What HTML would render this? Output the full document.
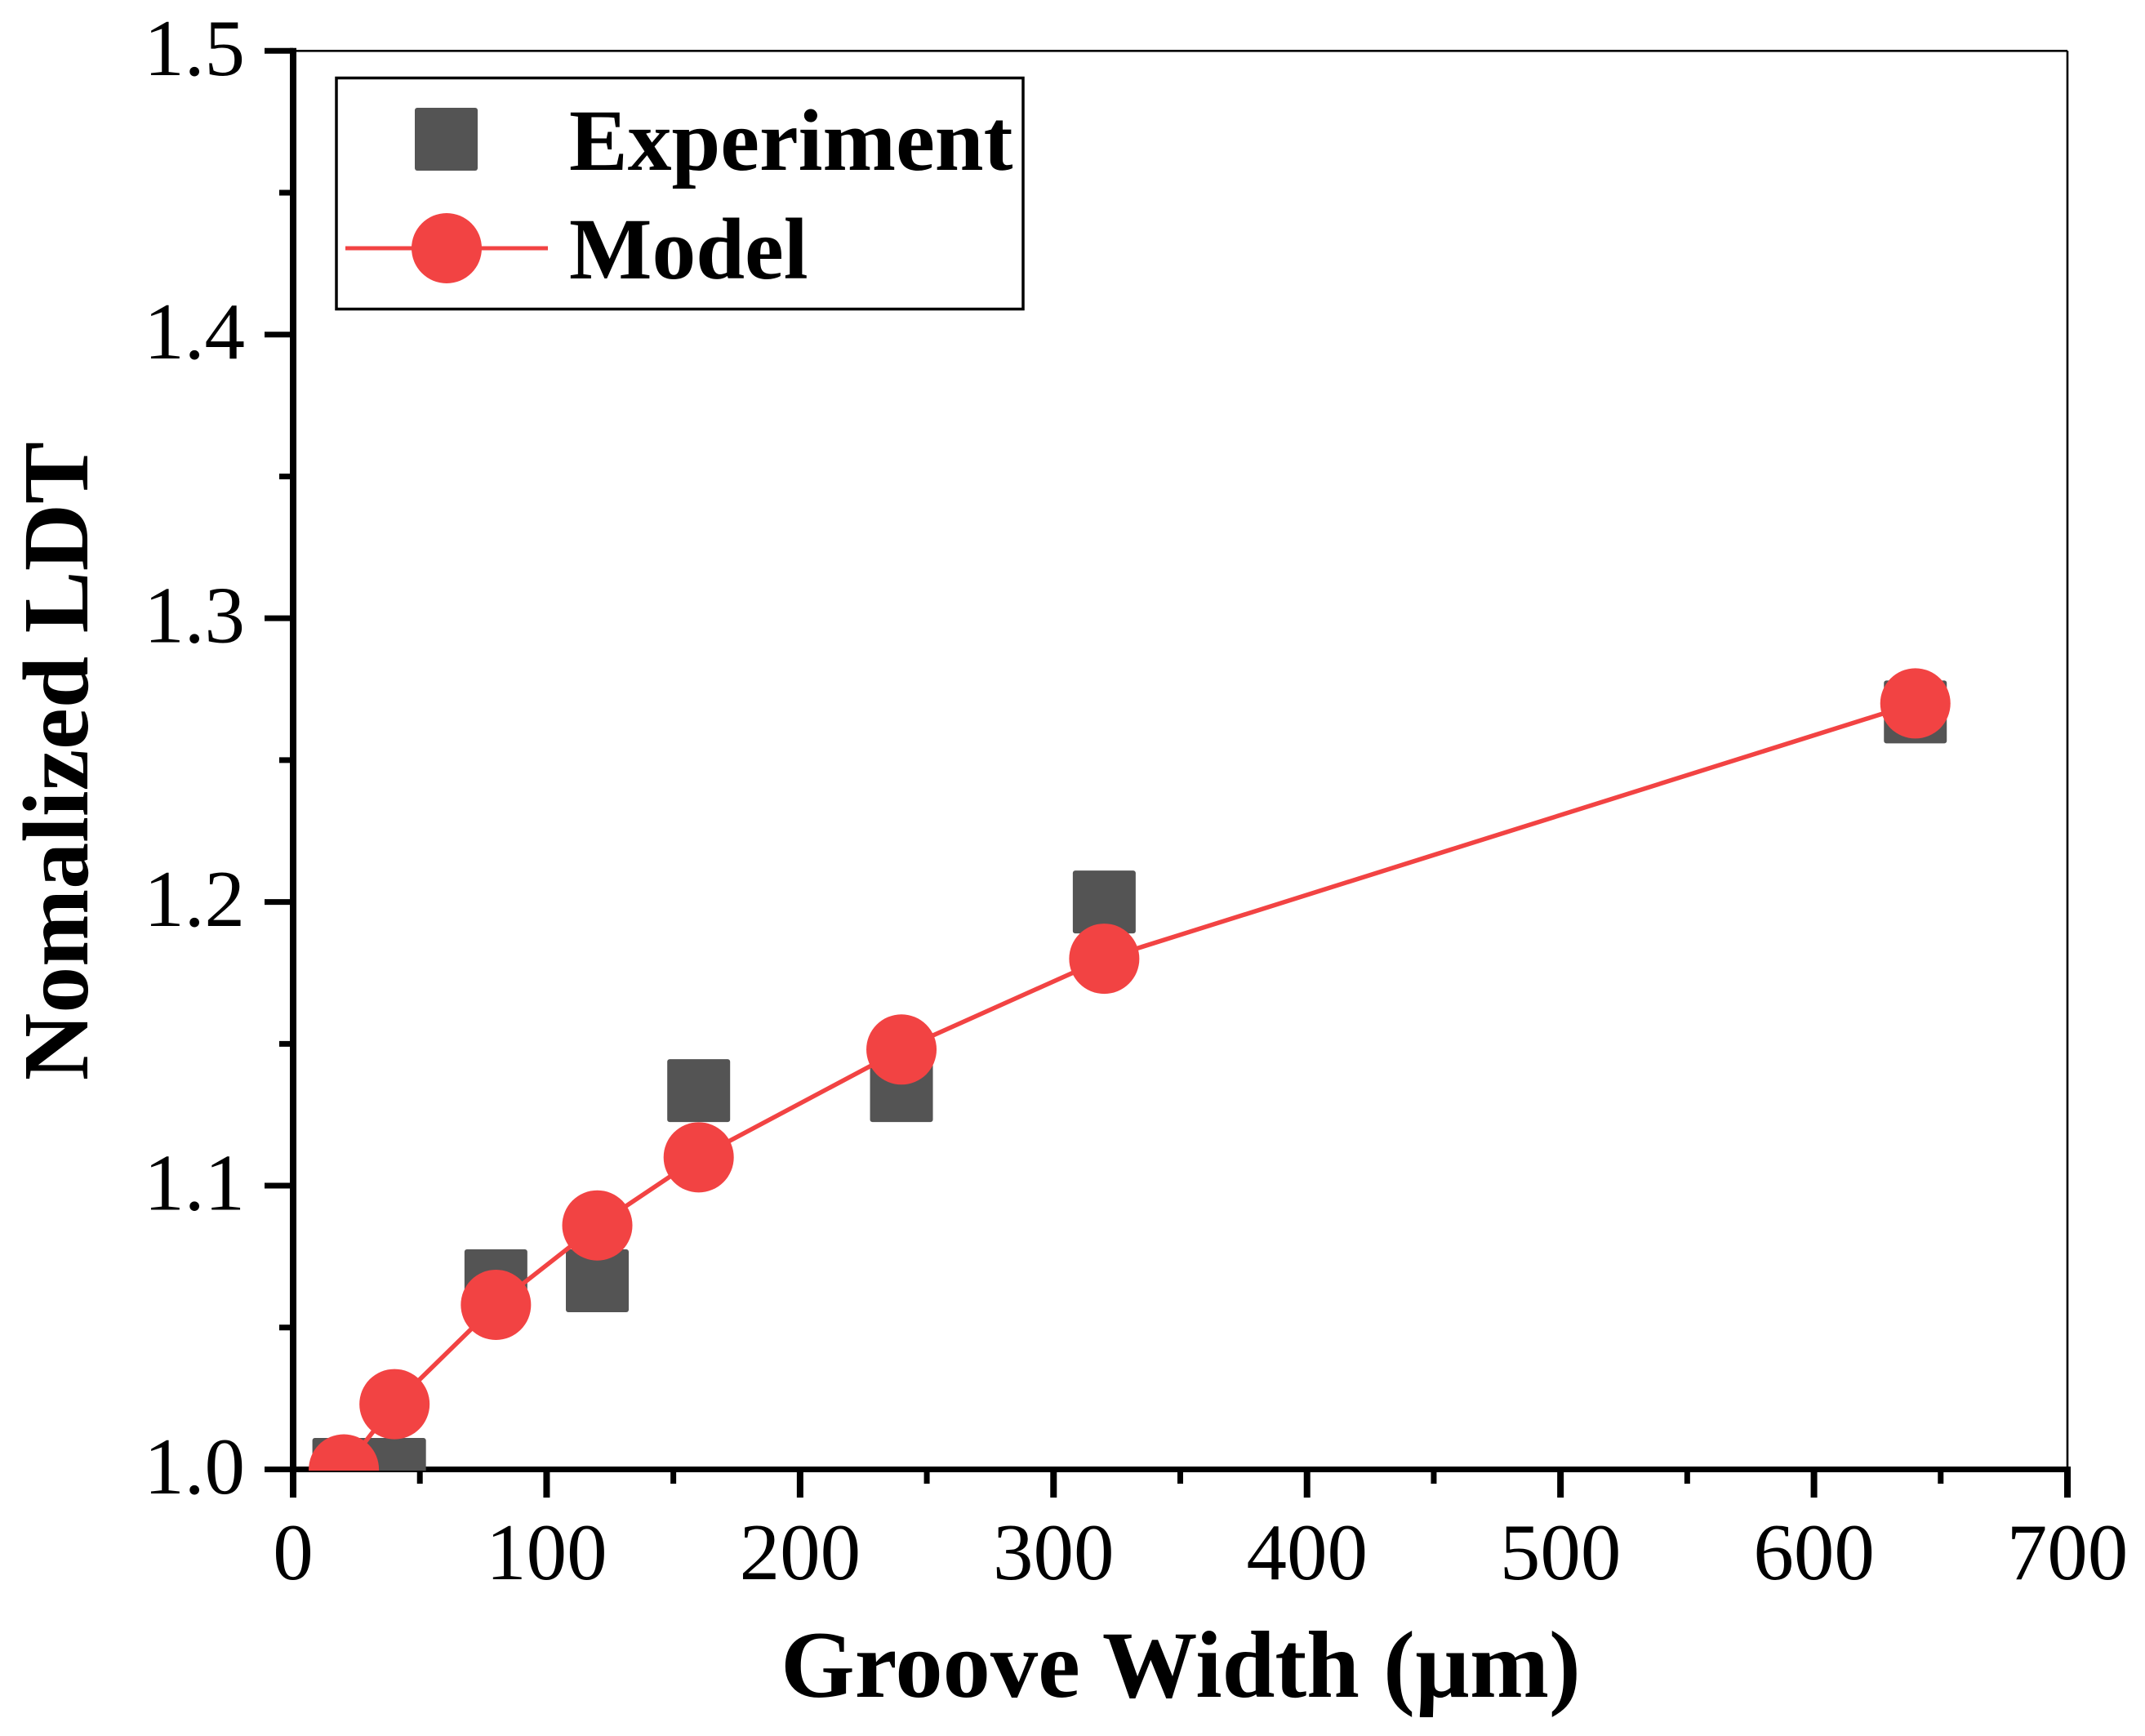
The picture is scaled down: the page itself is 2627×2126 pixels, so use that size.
<!DOCTYPE html>
<html lang="en">
<head>
<meta charset="utf-8">
<title>Normalized LDT vs Groove Width</title>
<style>
  html, body { margin: 0; padding: 0; background: #fff; }
  svg { display: block; }
  text { fill: #000; font-family: "Liberation Serif", "Times New Roman", serif; }
  .tick { font-size: 99px; }
  .title { font-size: 116.5px; font-weight: 700; }
  .ytitle { font-size: 114px; font-weight: 700; }
  .leg { font-size: 107.5px; font-weight: 700; }
</style>
</head>
<body>
<svg id="chart" xmlns="http://www.w3.org/2000/svg" width="2627" height="2126" viewBox="0 0 2627 2126">
  <rect x="0" y="0" width="2627" height="2126" fill="#ffffff"/>
  <defs>
    <clipPath id="plot-clip"><rect x="359" y="62" width="2173" height="1739"/></clipPath>
  </defs>
  <g id="axes"></g>
  <g id="marks" clip-path="url(#plot-clip)"></g>
  <text class="title" x="1446" y="2078" text-anchor="middle">Groove Width (µm)</text>
  <text class="ytitle" transform="translate(107 932) rotate(-90)" text-anchor="middle">Nomalized LDT</text>
  <g>
    <rect x="412" y="95.5" width="841" height="283" fill="#fff" stroke="#000" stroke-width="3.5"/>
    <rect x="508" y="132" width="77" height="77" rx="3" fill="#545454"/>
    <text class="leg" x="697" y="208">Experiment</text>
    <line x1="423" y1="304" x2="671" y2="304" stroke="#F24343" stroke-width="5"/>
    <circle cx="547" cy="304" r="43" fill="#F24343"/>
    <text class="leg" x="697" y="341">Model</text>
  </g>
</svg>
<script>
const grooveWidths = [20, 40, 80, 120, 160, 240, 320, 640];
const experimentValues = [1.0, 1.0, 1.0665, 1.0665, 1.1335, 1.1335, 1.2, 1.267];
const modelValues = [1.0, 1.023, 1.058, 1.086, 1.11, 1.148, 1.18, 1.27];
const xMajorTicks = [0, 100, 200, 300, 400, 500, 600, 700];
const xMinorTicks = [50, 150, 250, 350, 450, 550, 650];
const yMajorTicks = [1.0, 1.1, 1.2, 1.3, 1.4, 1.5];
const yMinorTicks = [1.05, 1.15, 1.25, 1.35, 1.45];

const NS = 'http://www.w3.org/2000/svg';
const xLeft = 359, xRight = 2532, yBottom = 1799.5, yTop = 62.3;
const xMin = 0, xMax = 700, yMin = 1.0, yMax = 1.5;
function xScale(v) { return xLeft + (v - xMin) / (xMax - xMin) * (xRight - xLeft); }
function yScale(v) { return yBottom - (v - yMin) / (yMax - yMin) * (yBottom - yTop); }

const axes = document.getElementById('axes');
const marks = document.getElementById('marks');

function drawLine(parent, x1, y1, x2, y2, width, color) {
  const el = document.createElementNS(NS, 'line');
  el.setAttribute('x1', x1);
  el.setAttribute('y1', y1);
  el.setAttribute('x2', x2);
  el.setAttribute('y2', y2);
  el.setAttribute('stroke', color);
  el.setAttribute('stroke-width', width);
  parent.appendChild(el);
  return el;
}
function drawLabel(x, y, anchor, str) {
  const el = document.createElementNS(NS, 'text');
  el.setAttribute('x', x);
  el.setAttribute('y', y);
  el.setAttribute('text-anchor', anchor);
  el.setAttribute('class', 'tick');
  el.textContent = str;
  axes.appendChild(el);
  return el;
}

let s;
s = drawLine(axes, xLeft, yTop, xRight, yTop, 2.6, '#000');


s = drawLine(axes, xRight, yTop, xRight, yBottom, 2.6, '#000');


s = drawLine(axes, xLeft, yTop - 3.5, xLeft, yBottom, 8, '#000');


s = drawLine(axes, xLeft, yBottom, xRight + 4, yBottom, 7, '#000');



xMajorTicks.forEach(function (v) {
  const t = drawLine(axes, xScale(v), yBottom, xScale(v), 1834, 8, '#000');
  
  
  const l = drawLabel(xScale(v), 1934, 'middle', String(v));
  
  
});
xMinorTicks.forEach(function (v) {
  const t = drawLine(axes, xScale(v), yBottom, xScale(v), 1817, 7, '#000');
  
  
});
yMajorTicks.forEach(function (v) {
  const t = drawLine(axes, 324, yScale(v), xLeft, yScale(v), 7, '#000');
  
  
  const l = drawLabel(300, yScale(v) + 29.5, 'end', v.toFixed(1));
  
  
});
yMinorTicks.forEach(function (v) {
  const t = drawLine(axes, 342, yScale(v), xLeft, yScale(v), 7, '#000');
  
  
});

const squareSize = 77;
experimentValues.forEach(function (v, i) {
  const r = document.createElementNS(NS, 'rect');
  
  
  r.setAttribute('x', xScale(grooveWidths[i]) - squareSize / 2);
  r.setAttribute('y', yScale(v) - squareSize / 2);
  r.setAttribute('width', squareSize);
  r.setAttribute('height', squareSize);
  r.setAttribute('rx', 3);
  r.setAttribute('fill', '#545454');
  marks.appendChild(r);
});

const modelLine = document.createElementNS(NS, 'polyline');


modelLine.setAttribute('points', modelValues.map(function (v, i) {
  return xScale(grooveWidths[i]) + ',' + yScale(v);
}).join(' '));
modelLine.setAttribute('fill', 'none');
modelLine.setAttribute('stroke', '#F24343');
modelLine.setAttribute('stroke-width', 5.5);
marks.appendChild(modelLine);

modelValues.forEach(function (v, i) {
  const c = document.createElementNS(NS, 'circle');
  
  
  c.setAttribute('cx', xScale(grooveWidths[i]));
  c.setAttribute('cy', yScale(v));
  c.setAttribute('r', 43);
  c.setAttribute('fill', '#F24343');
  marks.appendChild(c);
});
</script>
</body>
</html>
